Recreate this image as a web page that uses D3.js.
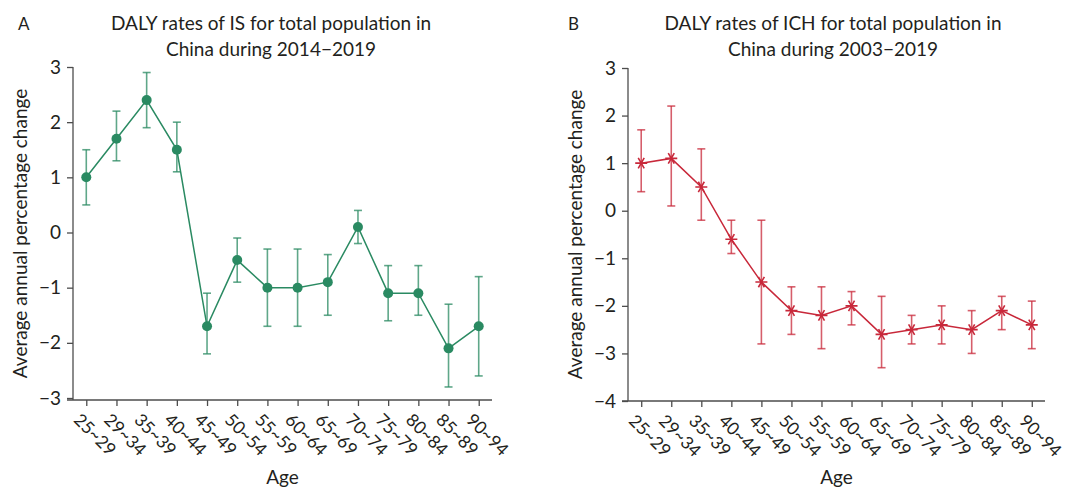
<!DOCTYPE html>
<html>
<head>
<meta charset="utf-8">
<script src="https://cdn.jsdelivr.net/npm/d3@7"></script>
<style>
  body { margin: 0; background: #fff; }
  text { font-family: Lato, "Noto Sans", sans-serif; fill: #231f20; }
</style>
</head>
<body>
<div id="chart"></div>
<script>
var ages = ['25~29','29~34','35~39','40~44','45~49','50~54','55~59','60~64','65~69','70~74','75~79','80~84','85~89','90~94'];

// panel A: IS
var isValue = [1.0, 1.7, 2.4, 1.5, -1.7, -0.5, -1.0, -1.0, -0.9, 0.1, -1.1, -1.1, -2.1, -1.7];
var isLower = [0.5, 1.3, 1.9, 1.1, -2.2, -0.9, -1.7, -1.7, -1.5, -0.2, -1.6, -1.5, -2.8, -2.6];
var isUpper = [1.5, 2.2, 2.9, 2.0, -1.1, -0.1, -0.3, -0.3, -0.4, 0.4, -0.6, -0.6, -1.3, -0.8];
var isTicks = [-3, -2, -1, 0, 1, 2, 3];

// panel B: ICH
var ichValue = [1.0, 1.1, 0.5, -0.6, -1.5, -2.1, -2.2, -2.0, -2.6, -2.5, -2.4, -2.5, -2.1, -2.4];
var ichLower = [0.4, 0.1, -0.2, -0.9, -2.8, -2.6, -2.9, -2.4, -3.3, -2.8, -2.8, -3.0, -2.5, -2.9];
var ichUpper = [1.7, 2.2, 1.3, -0.2, -0.2, -1.6, -1.6, -1.7, -1.8, -2.2, -2.0, -2.1, -1.8, -1.9];
var ichTicks = [-4, -3, -2, -1, 0, 1, 2, 3];

var svg = d3.select('#chart')
  .append('svg')
  .attr('width', 1065)
  .attr('height', 489);

function panel(opt){
  var g = svg.append('g');
  var x = d3.scalePoint()
    .domain(ages)
    .range([opt.left, opt.right])
    .padding(0.44);
  var y = d3.scaleLinear()
    .domain(opt.domain)
    .range([opt.bottom, opt.top]);

  // y axis
  var yAxis = g.append('g')
    .attr('transform', 'translate(' + opt.left + ',0)')
    .call(d3.axisLeft(y).tickValues(opt.ticks).tickSize(6).tickPadding(6)
      .tickFormat(function(d){ return d < 0 ? '\u2212' + Math.abs(d) : d; }));
  yAxis.select('.domain').attr('d', 'M0,' + y(opt.domain[1]) + 'V' + opt.axisY);
  yAxis.selectAll('path, line').attr('stroke', '#4d4d4d').attr('stroke-width', 1.3);
  yAxis.selectAll('text').style('font-size', '19px').attr('fill', '#231f20');

  // x axis
  var xAxis = g.append('g')
    .attr('transform', 'translate(0,' + opt.axisY + ')')
    .call(d3.axisBottom(x).tickSize(6).tickSizeOuter(0));
  xAxis.select('.domain').attr('d', 'M' + (opt.left - 6) + ',0H' + opt.right);
  xAxis.selectAll('path, line').attr('stroke', '#4d4d4d').attr('stroke-width', 1.3);
  xAxis.selectAll('text')
    .style('font-size', '17.5px')
    .attr('text-anchor', 'start')
    .attr('dy', null)
    .attr('y', 0)
    .attr('transform', 'translate(-14,21) rotate(45)');

  // line
  var pts = ages.map(function(a, i){ return {age: a, v: opt.value[i], lo: opt.lower[i], hi: opt.upper[i]}; });
  g.append('path')
    .datum(pts)
    .attr('fill', 'none')
    .attr('stroke', opt.color)
    .attr('stroke-width', 1.5)
    .attr('d', d3.line().x(function(d){ return x(d.age); }).y(function(d){ return y(d.v); }));

  // error bars
  var eb = g.selectAll('g.err')
    .data(pts)
    .enter()
      .append('g')
      .classed('err', true)
      .attr('stroke', opt.color)
      .attr('stroke-opacity', 0.75)
      .attr('stroke-width', 1.6);
  eb.append('line')
    .attr('x1', function(d){ return x(d.age); })
    .attr('x2', function(d){ return x(d.age); })
    .attr('y1', function(d){ return y(d.lo); })
    .attr('y2', function(d){ return y(d.hi); });
  eb.append('line')
    .attr('x1', function(d){ return x(d.age) - 4; })
    .attr('x2', function(d){ return x(d.age) + 4; })
    .attr('y1', function(d){ return y(d.lo); })
    .attr('y2', function(d){ return y(d.lo); });
  eb.append('line')
    .attr('x1', function(d){ return x(d.age) - 4; })
    .attr('x2', function(d){ return x(d.age) + 4; })
    .attr('y1', function(d){ return y(d.hi); })
    .attr('y2', function(d){ return y(d.hi); });

  // markers
  if (opt.marker == 'circle') {
    g.selectAll('circle.pt')
      .data(pts)
      .enter()
        .append('circle')
        .classed('pt', true)
        .attr('cx', function(d){ return x(d.age); })
        .attr('cy', function(d){ return y(d.v); })
        .attr('r', 5)
        .attr('fill', opt.color);
  } else {
    var star = 'M0,-6V6M-5.2,-3L5.2,3M-5.2,3L5.2,-3';
    g.selectAll('path.pt')
      .data(pts)
      .enter()
        .append('path')
        .classed('pt', true)
        .attr('transform', function(d){ return 'translate(' + x(d.age) + ',' + y(d.v) + ') rotate(90)'; })
        .attr('d', star)
        .attr('stroke', opt.color)
        .attr('stroke-width', 1.6)
        .attr('fill', 'none');
  }

  // titles and labels
  g.append('text')
    .attr('x', opt.letterX)
    .attr('y', 30)
    .style('font-size', '17px')
    .text(opt.letter);
  g.append('text')
    .attr('x', opt.titleX)
    .attr('y', 30)
    .attr('text-anchor', 'middle')
    .style('font-size', '19px')
    .text(opt.title1);
  g.append('text')
    .attr('x', opt.titleX)
    .attr('y', 56)
    .attr('text-anchor', 'middle')
    .style('font-size', '19px')
    .text(opt.title2);
  g.append('text')
    .attr('transform', 'translate(' + opt.ylabX + ',' + ((opt.top + opt.axisY) / 2) + ') rotate(-90)')
    .attr('text-anchor', 'middle')
    .style('font-size', '19px')
    .text('Average annual percentage change');
  g.append('text')
    .attr('x', (opt.left + opt.right) / 2)
    .attr('y', 484)
    .attr('text-anchor', 'middle')
    .style('font-size', '19px')
    .text('Age');
}

panel({
  left: 73, right: 492, top: 67, bottom: 398, axisY: 400,
  domain: [-3, 3], ticks: isTicks,
  value: isValue, lower: isLower, upper: isUpper,
  color: '#2a8a62', marker: 'circle',
  letter: 'A', letterX: 18, titleX: 271, ylabX: 27,
  title1: 'DALY rates of IS for total population in',
  title2: 'China during 2014\u22122019'
});

panel({
  left: 628, right: 1045, top: 68, bottom: 401, axisY: 401,
  domain: [-4, 3], ticks: ichTicks,
  value: ichValue, lower: ichLower, upper: ichUpper,
  color: '#c8283a', marker: 'star',
  letter: 'B', letterX: 568, titleX: 833, ylabX: 582,
  title1: 'DALY rates of ICH for total population in',
  title2: 'China during 2003\u22122019'
});
</script>
</body>
</html>
